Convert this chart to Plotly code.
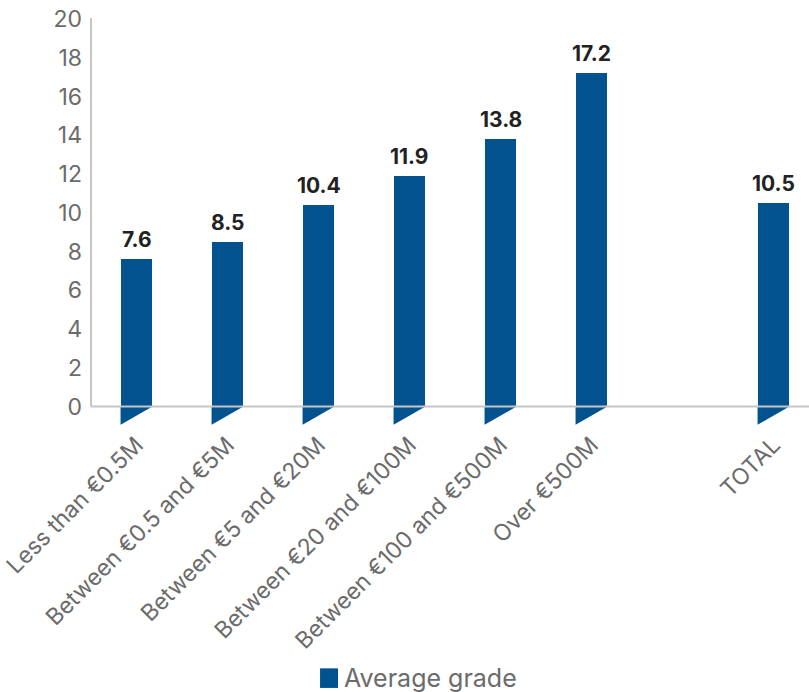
import plotly.graph_objects as go

# Average grade by company turnover band
categories = ["Less than €0.5M", "Between €0.5 and €5M", "Between €5 and €20M",
              "Between €20 and €100M", "Between €100 and €500M", "Over €500M", "TOTAL"]
positions = [0, 1, 2, 3, 4, 5, 7]
grades = [7.6, 8.5, 10.4, 11.9, 13.8, 17.2, 10.5]
y_ticks = [0, 2, 4, 6, 8, 10, 12, 14, 16, 18, 20]
series_name = "Average grade"

BLUE = "#02528F"
GRAY_TXT = "#6b6b6b"
AXIS_GRAY = "#c6c6c6"
BAR_W = 0.35
FLAG_DEPTH = 0.93
FONT = "Inter"

fig = go.Figure()

fig.add_trace(go.Bar(
    x=positions, y=grades, width=BAR_W, name=series_name,
    marker=dict(color=BLUE, line=dict(width=0)),
    showlegend=False,
))

# value labels above bars
for p, v in zip(positions, grades):
    fig.add_annotation(x=p, y=v, text=f"<b>{v:.1f}</b>", showarrow=False,
                       yanchor="bottom", yshift=5,
                       font=dict(family=FONT, size=21, color="#222222"))

# triangular flag hanging below each bar
for p in positions:
    x0, x1 = p - BAR_W / 2, p + BAR_W / 2
    fig.add_trace(go.Scatter(
        x=[x0, x1, x0, x0], y=[0, 0, -FLAG_DEPTH, 0],
        mode="lines", fill="toself", fillcolor=BLUE,
        line=dict(width=0, color=BLUE), showlegend=False, hoverinfo="skip",
    ))

# axis lines
fig.add_shape(type="line", xref="x", yref="y", x0=-0.5, x1=7.5, y0=0, y1=0,
              line=dict(color=AXIS_GRAY, width=2), layer="above")
fig.add_shape(type="line", xref="paper", yref="y", x0=0, x1=0, y0=0, y1=20.05,
              line=dict(color=AXIS_GRAY, width=2), layer="above")

# legend swatch and label
fig.add_shape(type="rect", xref="paper", yref="paper",
              x0=0.319, x1=0.344, y0=-0.642, y1=-0.594,
              fillcolor=BLUE, line=dict(width=0))
fig.add_annotation(xref="paper", yref="paper", x=0.35, y=-0.618,
                   xanchor="left", yanchor="middle", showarrow=False,
                   text=series_name,
                   font=dict(family=FONT, size=25, color=GRAY_TXT))

fig.update_layout(
    width=809, height=692,
    margin=dict(l=91, r=0, t=18, b=266),
    plot_bgcolor="white", paper_bgcolor="white",
    bargap=0,
    showlegend=False,
    xaxis=dict(range=[-0.5, 7.39], tickvals=positions, ticktext=categories,
               tickangle=-45, showgrid=False, zeroline=False, showline=False,
               ticks="",
               tickfont=dict(family=FONT, size=23, color=GRAY_TXT)),
    yaxis=dict(range=[-1.0, 20.05], tickvals=y_ticks, showgrid=False, zeroline=False,
               showline=False, ticks="", ticklabelstandoff=8,
               tickfont=dict(family=FONT, size=23, color=GRAY_TXT)),
)

fig.write_html("out.html")
